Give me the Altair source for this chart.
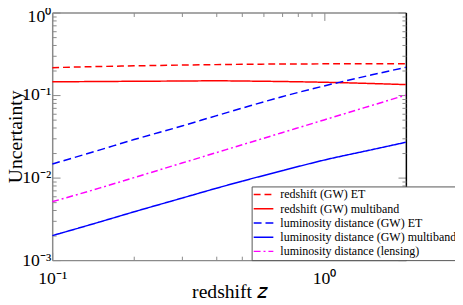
import altair as alt
import pandas as pd

# ---- data ----
z = [0.1, 0.15, 0.2, 0.3, 0.4, 0.5, 0.7, 1.0, 1.5, 2.0]
redshift_gw_et = [0.215, 0.222, 0.226, 0.231, 0.234, 0.236, 0.238, 0.239, 0.240, 0.240]
redshift_gw_mb = [0.145, 0.146, 0.147, 0.148, 0.149, 0.148, 0.146, 0.143, 0.138, 0.134]
lumdist_gw_et = [0.0146, 0.0217, 0.0289, 0.0422, 0.0560, 0.0695, 0.0955, 0.129, 0.176, 0.217]
lumdist_gw_mb = [0.00198, 0.00291, 0.00385, 0.00564, 0.00740, 0.00906, 0.0121, 0.0163, 0.0218, 0.0268]
lumdist_lensing = [0.0051, 0.0075, 0.010, 0.015, 0.020, 0.025, 0.035, 0.050, 0.075, 0.100]

series_names = [
    "redshift (GW) ET",
    "redshift (GW) multiband",
    "luminosity distance (GW) ET",
    "luminosity distance (GW) multiband",
    "luminosity distance (lensing)",
]
series_values = [redshift_gw_et, redshift_gw_mb, lumdist_gw_et, lumdist_gw_mb, lumdist_lensing]
series_colors = ["#ff0000", "#ff0000", "#0000ff", "#0000ff", "#ff00ff"]
series_dashes = [[7, 4], [1, 0], [8, 4], [1, 0], [7, 3, 2, 3]]

x_major = [0.1, 1.0]
x_minor = [0.2, 0.3, 0.4, 0.5, 0.6, 0.7, 0.8, 0.9, 2.0]
y_major = [0.001, 0.01, 0.1, 1.0]
y_minor = [m * d for d in [0.001, 0.01, 0.1] for m in range(2, 10)]
x_tick_labels = ["10⁻¹", "10⁰"]
y_tick_labels = ["10⁻³", "10⁻²", "10⁻¹", "10⁰"]

rows = []
for name, vals in zip(series_names, series_values):
    for zz, v in zip(z, vals):
        rows.append({"series": name, "z": zz, "v": v})
df = pd.DataFrame(rows)

FONT = "Liberation Serif"
GRAY = "#8a8a8a"

xscale = alt.Scale(type="log", domain=[0.1, 2.0], nice=False)
yscale = alt.Scale(type="log", domain=[0.001, 1.0], nice=False)

x_lab_expr = "[" + ",".join("'%s'" % s for s in x_tick_labels) + "][round(log(datum.value)/LN10)+1]"
y_lab_expr = "[" + ",".join("'%s'" % s for s in y_tick_labels) + "][round(log(datum.value)/LN10)+3]"


def axis(orient, values, major, labels=False, title=None, label_expr=None, domain_color=GRAY, **kw):
    args = dict(
        orient=orient,
        values=values,
        grid=False,
        domain=major,
        domainColor=domain_color,
        domainWidth=1.5,
        tickColor=GRAY,
        tickWidth=1,
        tickSize=alt.ExprRef("-8" if major else "-4"),
        labels=labels,
        title=title,
    )
    if labels:
        args.update(labelExpr=label_expr, labelFont=FONT, labelFontSize=18,
                    labelColor="black", labelFlush=False, labelOverlap=False)
    if title is not None:
        args.update(titleFont=FONT, titleFontSize=20, titleFontWeight="normal",
                    titleColor="black", titleBaseline="alphabetic")
    args.update(kw)
    return alt.Axis(**args)


leg = dict(orient="none", legendX=203, legendY=177, title=None,
           fillColor="white", strokeColor="#555555", padding=2,
           symbolType="M-1.2,0H2.8", symbolSize=100, symbolStrokeWidth=1.5,
           symbolFillColor="transparent",
           labelFont=FONT, labelFontSize=12.2, labelColor="black",
           labelOffset=15, rowPadding=1.5, labelLimit=0)

lines = alt.Chart(df).mark_line(strokeWidth=1.5, clip=True, interpolate="monotone").encode(
    x=alt.X("z:Q", scale=xscale,
            axis=axis("bottom", x_major, True, labels=True, title="redshift 𝑧",
                      label_expr=x_lab_expr, labelPadding=18, titleX=180, titleY=38)),
    y=alt.Y("v:Q", scale=yscale,
            axis=axis("left", y_major, True, labels=True, title="Uncertainty",
                      label_expr=y_lab_expr, labelPadding=9.5, titleX=-31, titleY=126,
                      labelOffset={"condition": {"test": "datum.value >= 1", "value": 4}, "value": 0})),
    color=alt.Color("series:N", scale=alt.Scale(domain=series_names, range=series_colors),
                    legend=alt.Legend(**leg)),
    strokeDash=alt.StrokeDash("series:N", scale=alt.Scale(domain=series_names, range=series_dashes),
                              legend=alt.Legend(**leg)),
    detail="series:N",
)


def ghost(xa, ya):
    return alt.Chart(df).mark_line(opacity=0).encode(
        x=alt.X("z:Q", scale=xscale, axis=xa),
        y=alt.Y("v:Q", scale=yscale, axis=ya),
        detail="series:N",
    )


minor_bl = ghost(axis("bottom", x_minor, False), axis("left", y_minor, False))
major_tr = ghost(axis("top", x_major, True), axis("right", y_major, True, domain_color="#000000"))
minor_tr = ghost(axis("top", x_minor, False), axis("right", y_minor, False))

chart = alt.layer(lines, minor_bl, major_tr, minor_tr).resolve_axis(
    x="independent", y="independent"
).properties(
    width=360,
    height=252,
    autosize=alt.AutoSizeParams(type="none"),
    padding={"left": 45, "top": 2, "right": 50, "bottom": 41},
).configure_view(stroke=None)

chart.save("out.html", embed_options={"renderer": "svg", "actions": False})
